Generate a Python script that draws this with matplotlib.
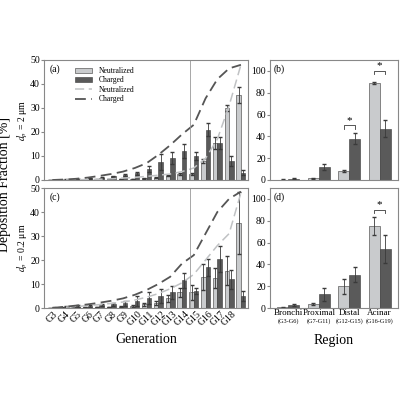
import numpy as np
import matplotlib
matplotlib.use("Agg")
import matplotlib.pyplot as plt

plt.rcParams["font.family"] = ["Liberation Serif", "DejaVu Serif"]
plt.rcParams["mathtext.fontset"] = "stix"

gens = ["G%d" % i for i in range(3, 19)] + [""]

# (a) dp = 2 um
a_neu = [0, 0.05, 0.1, 0.1, 0.2, 0.3, 0.4, 0.5, 0.7, 1.0, 1.8, 2.5, 2.5, 8, 15.5, 30, 35.5]
a_chg = [0.1, 0.2, 0.4, 0.7, 1.0, 1.5, 2.0, 2.8, 4.5, 7.5, 9, 12, 10, 21, 15.5, 8, 3]
a_neu_err = [0, 0, 0, 0, 0.1, 0.1, 0.1, 0.1, 0.2, 0.2, 0.3, 0.4, 0.6, 0.8, 2.5, 1.2, 3.3]
a_chg_err = [0, 0.1, 0.1, 0.2, 0.2, 0.3, 0.4, 0.6, 1.2, 3.5, 2.5, 2.8, 1.6, 2.8, 2.5, 2.2, 1.0]
a_neu_line = [0, 0, 0.1, 0.2, 0.3, 0.5, 0.8, 1.1, 1.5, 2, 2.5, 3.5, 5, 9, 17, 31, 48]
a_chg_line = [0, 0.2, 0.5, 1, 1.7, 2.5, 3.5, 5, 7, 10.5, 14.5, 19, 23, 34, 42, 46.5, 48]

# (c) dp = 0.2 um
c_neu = [0, 0.2, 0.3, 0.4, 0.5, 0.5, 0.6, 0.9, 1.5, 2, 4, 6.5, 6.5, 13, 12.5, 15.5, 35.5]
c_chg = [0.2, 0.5, 0.8, 1, 1.2, 1.5, 2, 3, 4.2, 5, 6.5, 11.5, 7, 17, 20.5, 12, 5]
c_neu_err = [0, 0.1, 0.1, 0.1, 0.1, 0.1, 0.2, 0.3, 0.5, 0.8, 1.5, 2, 3, 5.5, 4, 6, 13]
c_chg_err = [0.1, 0.2, 0.3, 0.4, 0.5, 0.5, 1, 2, 2.5, 3, 2.8, 3, 1.3, 3.5, 5.5, 4, 2]
c_neu_line = [0, 0.3, 0.6, 1, 1.4, 1.9, 2.5, 3.3, 4.5, 6, 8, 10.5, 14, 20, 26, 31, 48]
c_chg_line = [0, 0.5, 1, 1.5, 2.2, 3, 4, 5.5, 7.5, 10, 13, 18.5, 22, 31, 40, 45.5, 48.5]

regions = ["Bronchi", "Proximal", "Distal", "Acinar"]
region_sub = ["(G3-G6)", "(G7-G11)", "(G12-G15)", "(G16-G19)"]
b_neu = [0.3, 1.5, 8, 89]
b_chg = [1, 12, 38, 47]
b_neu_err = [0.2, 0.5, 1, 1]
b_chg_err = [0.5, 3, 5, 8]
d_neu = [0.5, 3.5, 20, 75]
d_chg = [2.5, 12.5, 30.5, 54]
d_neu_err = [0.3, 1, 7, 8]
d_chg_err = [1, 6, 7, 13]

LIGHT = "#c9cbcd"
DARK = "#5a5a5a"
EDGE = "#3a3a3a"
FRAME = "#888888"

fig = plt.figure(figsize=(4, 4), dpi=100)
axa = fig.add_axes([0.11, 0.55, 0.51, 0.30])
axc = fig.add_axes([0.11, 0.23, 0.51, 0.30])
axb = fig.add_axes([0.675, 0.55, 0.32, 0.30])
axd = fig.add_axes([0.675, 0.23, 0.32, 0.30])


def style(ax):
    for s in ax.spines.values():
        s.set_color(FRAME)
    ax.tick_params(labelsize=7, length=2, color=FRAME, pad=1)


def gen_panel(ax, neu, chg, ne, ce, nl, cl, tag):
    x = np.arange(len(neu))
    w = 0.38
    ek = dict(elinewidth=0.6, capsize=1.2, ecolor=EDGE)
    hb1 = ax.bar(x - w / 2, neu, w, yerr=ne, color=LIGHT, edgecolor=EDGE, lw=0.4,
                 error_kw=ek, label="Neutralized")
    hb2 = ax.bar(x + w / 2, chg, w, yerr=ce, color=DARK, edgecolor=EDGE, lw=0.4,
                 error_kw=ek, label="Charged")
    hl1, = ax.plot(x, nl, ls=(0, (6, 3)), color="#c0c2c4", lw=1.1, label="Neutralized")
    hl2, = ax.plot(x, cl, ls=(0, (6, 3)), color="#555555", lw=1.3, label="Charged")
    ax.axvline(11.7, color="#999999", lw=0.6)
    ax.set_xlim(-0.7, len(neu) - 0.4)
    ax.set_ylim(0, 50)
    ax.set_yticks([0, 10, 20, 30, 40, 50])
    ax.text(0.03, 0.9, tag, transform=ax.transAxes, fontsize=7)
    style(ax)
    return [hb1, hb2, hl1, hl2]


handles = gen_panel(axa, a_neu, a_chg, a_neu_err, a_chg_err, a_neu_line, a_chg_line, "(a)")
gen_panel(axc, c_neu, c_chg, c_neu_err, c_chg_err, c_neu_line, c_chg_line, "(c)")
axa.set_xticks([])
axc.set_xticks(np.arange(len(gens)))
axc.set_xticklabels(gens, rotation=45, fontsize=7)
axc.tick_params(axis="x", length=0)
axa.set_ylabel(r"$d_p$ = 2 μm", fontsize=7, labelpad=0)
axc.set_ylabel(r"$d_p$ = 0.2 μm", fontsize=7, labelpad=0)
axa.legend(handles, ["Neutralized", "Charged", "Neutralized", "Charged"],
           loc="upper left", bbox_to_anchor=(0.12, 1.0), fontsize=5.5, frameon=False,
           handlelength=2.2, labelspacing=0.2)
axc.set_xlabel("Generation", fontsize=10, labelpad=4)
fig.text(0.012, 0.54, "Deposition Fraction [%]", rotation=90, fontsize=10,
         va="center", ha="center")


def bracket(ax, i, y, w):
    ax.plot([i - w / 2, i - w / 2, i + w / 2, i + w / 2], [y - 3, y, y, y - 3],
            color=EDGE, lw=0.6)
    ax.text(i, y + 0.5, "*", ha="center", va="bottom", fontsize=8)


def region_panel(ax, neu, chg, ne, ce, tag):
    x = np.arange(len(neu))
    w = 0.36
    ek = dict(elinewidth=0.6, capsize=1.5, ecolor=EDGE)
    ax.bar(x - w / 2, neu, w, yerr=ne, color=LIGHT, edgecolor=EDGE, lw=0.4, error_kw=ek)
    ax.bar(x + w / 2, chg, w, yerr=ce, color=DARK, edgecolor=EDGE, lw=0.4, error_kw=ek)
    ax.set_xlim(-0.6, 3.6)
    ax.set_ylim(0, 110)
    ax.set_yticks([0, 20, 40, 60, 80, 100])
    ax.text(0.03, 0.9, tag, transform=ax.transAxes, fontsize=7)
    style(ax)


region_panel(axb, b_neu, b_chg, b_neu_err, b_chg_err, "(b)")
region_panel(axd, d_neu, d_chg, d_neu_err, d_chg_err, "(d)")
bracket(axb, 2, 50, 0.36)
bracket(axb, 3, 100, 0.36)
bracket(axd, 3, 90, 0.36)
axb.set_xticks([])
axd.set_xticks(np.arange(4))
axd.set_xticklabels(regions, fontsize=6.5)
axd.tick_params(axis="x", length=0, pad=1)
for i, s in enumerate(region_sub):
    axd.text(i, -9, s, ha="center", va="top", fontsize=4.5)
axd.set_xlabel("Region", fontsize=10, labelpad=12)

fig.savefig("out.png", dpi=100)
